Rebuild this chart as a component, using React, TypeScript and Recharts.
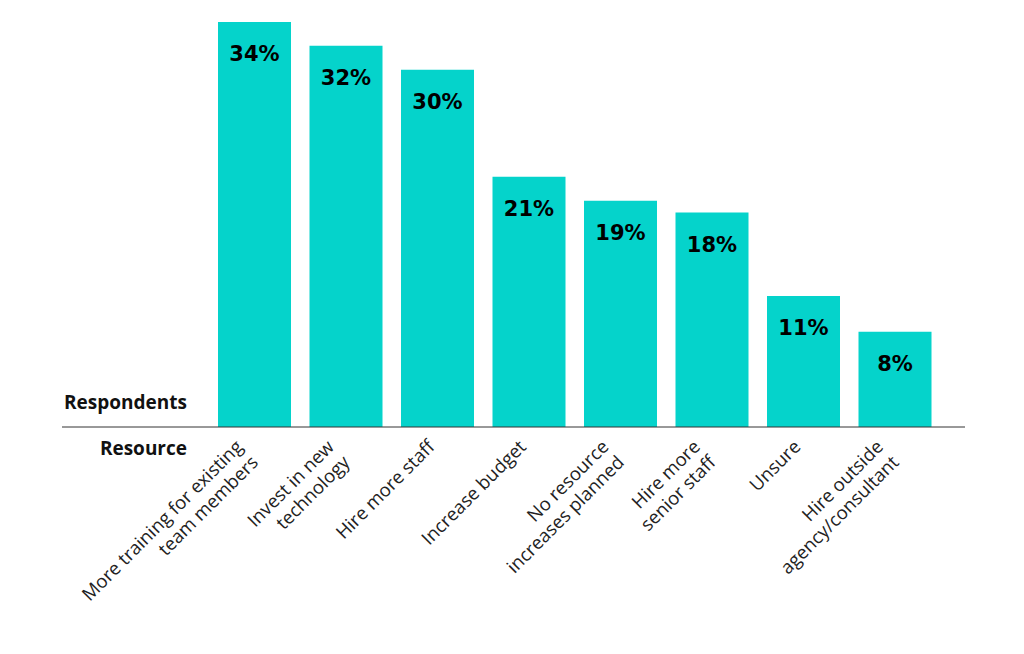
import { BarChart, Bar, XAxis, YAxis, LabelList } from 'recharts'

const resources = [
  'More training for existing|team members',
  'Invest in new|technology',
  'Hire more staff',
  'Increase budget',
  'No resource|increases planned',
  'Hire more|senior staff',
  'Unsure',
  'Hire outside|agency/consultant',
]
const respondents = [34, 32, 30, 21, 19, 18, 11, 8]

const data = resources.map((resource, i) => ({ resource, value: respondents[i] }))

const FONT = '"Open Sans", sans-serif'
const TEAL = '#05d3cb'

function ResourceTick({ x, y, payload }: any) {
  const lines = String(payload.value).split('|')
  const shift = (lines.length - 1) * 9
  return (
    <g transform={`translate(${x - 2 - shift},${y + 13})`}>
      <text
        transform="rotate(-45)"
        textAnchor="end"
        fontFamily={FONT}
        fontSize={18.5}
        fill="#222"
      >
        {lines.map((line, i) => (
          <tspan key={i} x={0} dy={i === 0 ? 0 : 22}>
            {line}
          </tspan>
        ))}
      </text>
    </g>
  )
}

function ValueLabel({ x, y, width, value }: any) {
  return (
    <text
      x={x + width / 2}
      y={y + 39}
      textAnchor="middle"
      fontFamily='"DejaVu Sans", sans-serif'
      fontWeight={700}
      fontSize={21}
      fill="#000"
    >
      {value}%
    </text>
  )
}

const axisTitle = {
  position: 'absolute' as const,
  right: 1024 - 187,
  fontFamily: FONT,
  fontWeight: 700,
  fontSize: 19,
  color: '#111',
  whiteSpace: 'nowrap' as const,
}

export default function App() {
  return (
    <div style={{ position: 'absolute', left: 0, top: 0, width: 1024, height: 654, background: '#fff' }}>
      <BarChart
        width={1024}
        height={654}
        data={data}
        margin={{ top: 22, right: 59, bottom: 27, left: 62 }}
        barSize={73}
      >
        <XAxis
          dataKey="resource"
          height={200}
          padding={{ left: 147, right: 24 }}
          axisLine={{ stroke: '#333', strokeWidth: 1 }}
          tickLine={false}
          tick={<ResourceTick />}
          interval={0}
        />
        <YAxis hide domain={[0, 34]} />
        <Bar dataKey="value" fill={TEAL} isAnimationActive={false}>
          <LabelList dataKey="value" content={<ValueLabel />} />
        </Bar>
      </BarChart>
      <div style={{ ...axisTitle, top: 389 }}>Respondents</div>
      <div style={{ ...axisTitle, top: 435 }}>Resource</div>
    </div>
  )
}
